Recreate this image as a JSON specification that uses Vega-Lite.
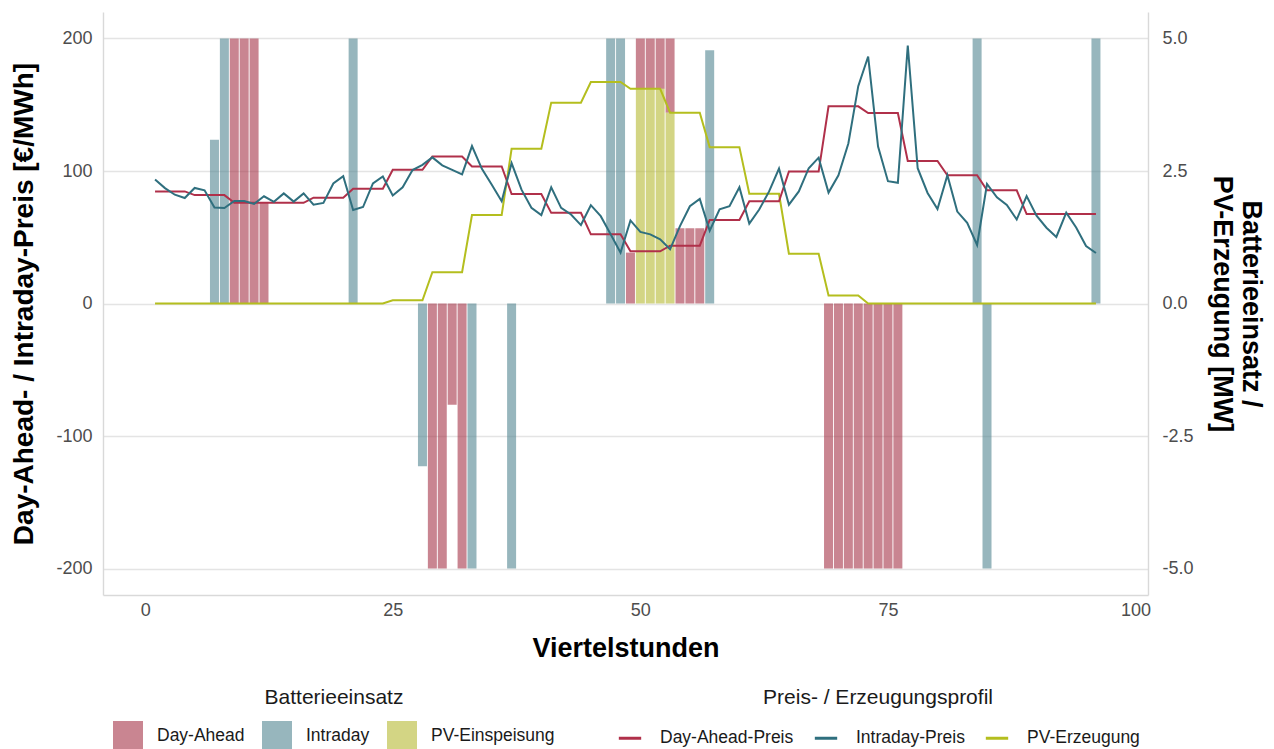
{
"$schema": "https://vega.github.io/schema/vega-lite/v6.json",
"width": 1045, "height": 583,
"autosize": {"type": "none"},
"padding": {"left": 103, "top": 12, "right": 126, "bottom": 154},
"background": "white",
"config": {
  "font": "Liberation Sans",
  "view": {"stroke": null},
  "axis": {"gridColor": "#e4e4e4", "gridWidth": 1.4, "domainColor": "#d9d9d9", "domainWidth": 1.4, "ticks": false, "labelColor": "#4d4d4d", "labelFontSize": 18, "titleFontSize": 27, "titleFontWeight": "bold", "titleColor": "#000000"},
  "legend": {"titleFontSize": 21, "titleFontWeight": "normal", "titleColor": "#1a1a1a", "labelFontSize": 17.5, "labelColor": "#1a1a1a", "titleLimit": 400, "labelLimit": 300}
},
"datasets": {
  "einsatz": [
    {"q":7,"einsatz":"Intraday","mw":3.09},{"q":8,"einsatz":"Intraday","mw":5},{"q":21,"einsatz":"Intraday","mw":5},
    {"q":28,"einsatz":"Intraday","mw":-3.07},{"q":33,"einsatz":"Intraday","mw":-5},{"q":37,"einsatz":"Intraday","mw":-5},
    {"q":47,"einsatz":"Intraday","mw":5},{"q":48,"einsatz":"Intraday","mw":5},{"q":57,"einsatz":"Intraday","mw":4.78},
    {"q":84,"einsatz":"Intraday","mw":5},{"q":85,"einsatz":"Intraday","mw":-5},{"q":96,"einsatz":"Intraday","mw":5},
    {"q":9,"einsatz":"Day-Ahead","mw":5},{"q":10,"einsatz":"Day-Ahead","mw":5},{"q":11,"einsatz":"Day-Ahead","mw":5},{"q":12,"einsatz":"Day-Ahead","mw":1.9},
    {"q":29,"einsatz":"Day-Ahead","mw":-5},{"q":30,"einsatz":"Day-Ahead","mw":-5},{"q":31,"einsatz":"Day-Ahead","mw":-1.91},{"q":32,"einsatz":"Day-Ahead","mw":-5},
    {"q":49,"einsatz":"Day-Ahead","mw":0.96},{"q":50,"einsatz":"Day-Ahead","mw":0.95},{"q":51,"einsatz":"Day-Ahead","mw":0.95},{"q":52,"einsatz":"Day-Ahead","mw":0.95},
    {"q":53,"einsatz":"Day-Ahead","mw":1.4},{"q":54,"einsatz":"Day-Ahead","mw":1.42},{"q":55,"einsatz":"Day-Ahead","mw":1.42},{"q":56,"einsatz":"Day-Ahead","mw":1.42},
    {"q":69,"einsatz":"Day-Ahead","mw":-5},{"q":70,"einsatz":"Day-Ahead","mw":-5},{"q":71,"einsatz":"Day-Ahead","mw":-5},{"q":72,"einsatz":"Day-Ahead","mw":-5},
    {"q":73,"einsatz":"Day-Ahead","mw":-5},{"q":74,"einsatz":"Day-Ahead","mw":-5},{"q":75,"einsatz":"Day-Ahead","mw":-5},{"q":76,"einsatz":"Day-Ahead","mw":-5},
    {"q":50,"einsatz":"PV-Einspeisung","mw":4.05},{"q":51,"einsatz":"PV-Einspeisung","mw":4.05},{"q":52,"einsatz":"PV-Einspeisung","mw":4.05},{"q":53,"einsatz":"PV-Einspeisung","mw":3.6}
  ],
  "profil": [
    {"q":1,"Day-Ahead-Preis":84.6,"Intraday-Preis":93.6,"PV-Erzeugung":0},
    {"q":2,"Day-Ahead-Preis":84.6,"Intraday-Preis":87.1,"PV-Erzeugung":0},
    {"q":3,"Day-Ahead-Preis":84.6,"Intraday-Preis":82.1,"PV-Erzeugung":0},
    {"q":4,"Day-Ahead-Preis":84.6,"Intraday-Preis":79.6,"PV-Erzeugung":0},
    {"q":5,"Day-Ahead-Preis":81.8,"Intraday-Preis":87.2,"PV-Erzeugung":0},
    {"q":6,"Day-Ahead-Preis":81.8,"Intraday-Preis":85.4,"PV-Erzeugung":0},
    {"q":7,"Day-Ahead-Preis":81.8,"Intraday-Preis":72.5,"PV-Erzeugung":0},
    {"q":8,"Day-Ahead-Preis":81.8,"Intraday-Preis":72.1,"PV-Erzeugung":0},
    {"q":9,"Day-Ahead-Preis":76.0,"Intraday-Preis":77.4,"PV-Erzeugung":0},
    {"q":10,"Day-Ahead-Preis":76.0,"Intraday-Preis":77.4,"PV-Erzeugung":0},
    {"q":11,"Day-Ahead-Preis":76.0,"Intraday-Preis":75.2,"PV-Erzeugung":0},
    {"q":12,"Day-Ahead-Preis":76.0,"Intraday-Preis":80.9,"PV-Erzeugung":0},
    {"q":13,"Day-Ahead-Preis":76.0,"Intraday-Preis":76.7,"PV-Erzeugung":0},
    {"q":14,"Day-Ahead-Preis":76.0,"Intraday-Preis":83.1,"PV-Erzeugung":0},
    {"q":15,"Day-Ahead-Preis":76.0,"Intraday-Preis":76.9,"PV-Erzeugung":0},
    {"q":16,"Day-Ahead-Preis":76.0,"Intraday-Preis":83.1,"PV-Erzeugung":0},
    {"q":17,"Day-Ahead-Preis":79.9,"Intraday-Preis":74.6,"PV-Erzeugung":0},
    {"q":18,"Day-Ahead-Preis":79.9,"Intraday-Preis":75.9,"PV-Erzeugung":0},
    {"q":19,"Day-Ahead-Preis":79.9,"Intraday-Preis":90.6,"PV-Erzeugung":0},
    {"q":20,"Day-Ahead-Preis":79.9,"Intraday-Preis":96.1,"PV-Erzeugung":0},
    {"q":21,"Day-Ahead-Preis":86.6,"Intraday-Preis":70.6,"PV-Erzeugung":0},
    {"q":22,"Day-Ahead-Preis":86.6,"Intraday-Preis":72.8,"PV-Erzeugung":0},
    {"q":23,"Day-Ahead-Preis":86.6,"Intraday-Preis":90.6,"PV-Erzeugung":0},
    {"q":24,"Day-Ahead-Preis":86.6,"Intraday-Preis":95.9,"PV-Erzeugung":0},
    {"q":25,"Day-Ahead-Preis":100.9,"Intraday-Preis":81.5,"PV-Erzeugung":0.06},
    {"q":26,"Day-Ahead-Preis":100.9,"Intraday-Preis":87.7,"PV-Erzeugung":0.06},
    {"q":27,"Day-Ahead-Preis":100.9,"Intraday-Preis":100.7,"PV-Erzeugung":0.06},
    {"q":28,"Day-Ahead-Preis":100.9,"Intraday-Preis":104.6,"PV-Erzeugung":0.06},
    {"q":29,"Day-Ahead-Preis":111.0,"Intraday-Preis":110.3,"PV-Erzeugung":0.59},
    {"q":30,"Day-Ahead-Preis":111.0,"Intraday-Preis":104.3,"PV-Erzeugung":0.59},
    {"q":31,"Day-Ahead-Preis":111.0,"Intraday-Preis":100.8,"PV-Erzeugung":0.59},
    {"q":32,"Day-Ahead-Preis":111.0,"Intraday-Preis":97.4,"PV-Erzeugung":0.59},
    {"q":33,"Day-Ahead-Preis":103.4,"Intraday-Preis":118.8,"PV-Erzeugung":1.67},
    {"q":34,"Day-Ahead-Preis":103.4,"Intraday-Preis":101.6,"PV-Erzeugung":1.67},
    {"q":35,"Day-Ahead-Preis":103.4,"Intraday-Preis":89.6,"PV-Erzeugung":1.67},
    {"q":36,"Day-Ahead-Preis":103.4,"Intraday-Preis":77.2,"PV-Erzeugung":1.67},
    {"q":37,"Day-Ahead-Preis":82.6,"Intraday-Preis":105.9,"PV-Erzeugung":2.92},
    {"q":38,"Day-Ahead-Preis":82.6,"Intraday-Preis":85.9,"PV-Erzeugung":2.92},
    {"q":39,"Day-Ahead-Preis":82.6,"Intraday-Preis":72.2,"PV-Erzeugung":2.92},
    {"q":40,"Day-Ahead-Preis":82.6,"Intraday-Preis":66.7,"PV-Erzeugung":2.92},
    {"q":41,"Day-Ahead-Preis":68.4,"Intraday-Preis":87.6,"PV-Erzeugung":3.79},
    {"q":42,"Day-Ahead-Preis":68.4,"Intraday-Preis":72.2,"PV-Erzeugung":3.79},
    {"q":43,"Day-Ahead-Preis":68.4,"Intraday-Preis":67.2,"PV-Erzeugung":3.79},
    {"q":44,"Day-Ahead-Preis":68.4,"Intraday-Preis":59.2,"PV-Erzeugung":3.79},
    {"q":45,"Day-Ahead-Preis":52.2,"Intraday-Preis":74.2,"PV-Erzeugung":4.18},
    {"q":46,"Day-Ahead-Preis":52.2,"Intraday-Preis":65.9,"PV-Erzeugung":4.18},
    {"q":47,"Day-Ahead-Preis":52.2,"Intraday-Preis":52.2,"PV-Erzeugung":4.18},
    {"q":48,"Day-Ahead-Preis":52.2,"Intraday-Preis":38.4,"PV-Erzeugung":4.18},
    {"q":49,"Day-Ahead-Preis":39.4,"Intraday-Preis":62.7,"PV-Erzeugung":4.05},
    {"q":50,"Day-Ahead-Preis":39.4,"Intraday-Preis":54.0,"PV-Erzeugung":4.05},
    {"q":51,"Day-Ahead-Preis":39.4,"Intraday-Preis":52.2,"PV-Erzeugung":4.05},
    {"q":52,"Day-Ahead-Preis":39.4,"Intraday-Preis":48.4,"PV-Erzeugung":4.05},
    {"q":53,"Day-Ahead-Preis":43.6,"Intraday-Preis":40.9,"PV-Erzeugung":3.6},
    {"q":54,"Day-Ahead-Preis":43.6,"Intraday-Preis":58.4,"PV-Erzeugung":3.6},
    {"q":55,"Day-Ahead-Preis":43.6,"Intraday-Preis":73.4,"PV-Erzeugung":3.6},
    {"q":56,"Day-Ahead-Preis":43.6,"Intraday-Preis":78.9,"PV-Erzeugung":3.6},
    {"q":57,"Day-Ahead-Preis":63.1,"Intraday-Preis":55.0,"PV-Erzeugung":2.95},
    {"q":58,"Day-Ahead-Preis":63.1,"Intraday-Preis":71.1,"PV-Erzeugung":2.95},
    {"q":59,"Day-Ahead-Preis":63.1,"Intraday-Preis":73.4,"PV-Erzeugung":2.95},
    {"q":60,"Day-Ahead-Preis":63.1,"Intraday-Preis":87.7,"PV-Erzeugung":2.95},
    {"q":61,"Day-Ahead-Preis":77.2,"Intraday-Preis":60.3,"PV-Erzeugung":2.07},
    {"q":62,"Day-Ahead-Preis":77.2,"Intraday-Preis":70.9,"PV-Erzeugung":2.07},
    {"q":63,"Day-Ahead-Preis":77.2,"Intraday-Preis":84.6,"PV-Erzeugung":2.07},
    {"q":64,"Day-Ahead-Preis":77.2,"Intraday-Preis":101.8,"PV-Erzeugung":2.07},
    {"q":65,"Day-Ahead-Preis":99.6,"Intraday-Preis":74.6,"PV-Erzeugung":0.94},
    {"q":66,"Day-Ahead-Preis":99.6,"Intraday-Preis":84.6,"PV-Erzeugung":0.94},
    {"q":67,"Day-Ahead-Preis":99.6,"Intraday-Preis":102.1,"PV-Erzeugung":0.94},
    {"q":68,"Day-Ahead-Preis":99.6,"Intraday-Preis":110.1,"PV-Erzeugung":0.94},
    {"q":69,"Day-Ahead-Preis":148.8,"Intraday-Preis":83.7,"PV-Erzeugung":0.15},
    {"q":70,"Day-Ahead-Preis":148.8,"Intraday-Preis":96.8,"PV-Erzeugung":0.15},
    {"q":71,"Day-Ahead-Preis":148.8,"Intraday-Preis":120.8,"PV-Erzeugung":0.15},
    {"q":72,"Day-Ahead-Preis":148.8,"Intraday-Preis":164.0,"PV-Erzeugung":0.15},
    {"q":73,"Day-Ahead-Preis":143.8,"Intraday-Preis":186.4,"PV-Erzeugung":0},
    {"q":74,"Day-Ahead-Preis":143.8,"Intraday-Preis":118.4,"PV-Erzeugung":0},
    {"q":75,"Day-Ahead-Preis":143.8,"Intraday-Preis":92.3,"PV-Erzeugung":0},
    {"q":76,"Day-Ahead-Preis":143.8,"Intraday-Preis":91.1,"PV-Erzeugung":0},
    {"q":77,"Day-Ahead-Preis":107.6,"Intraday-Preis":194.7,"PV-Erzeugung":0},
    {"q":78,"Day-Ahead-Preis":107.6,"Intraday-Preis":102.1,"PV-Erzeugung":0},
    {"q":79,"Day-Ahead-Preis":107.6,"Intraday-Preis":83.4,"PV-Erzeugung":0},
    {"q":80,"Day-Ahead-Preis":107.6,"Intraday-Preis":71.3,"PV-Erzeugung":0},
    {"q":81,"Day-Ahead-Preis":96.8,"Intraday-Preis":96.8,"PV-Erzeugung":0},
    {"q":82,"Day-Ahead-Preis":96.8,"Intraday-Preis":69.4,"PV-Erzeugung":0},
    {"q":83,"Day-Ahead-Preis":96.8,"Intraday-Preis":60.9,"PV-Erzeugung":0},
    {"q":84,"Day-Ahead-Preis":96.8,"Intraday-Preis":44.2,"PV-Erzeugung":0},
    {"q":85,"Day-Ahead-Preis":85.4,"Intraday-Preis":90.2,"PV-Erzeugung":0},
    {"q":86,"Day-Ahead-Preis":85.4,"Intraday-Preis":80.2,"PV-Erzeugung":0},
    {"q":87,"Day-Ahead-Preis":85.4,"Intraday-Preis":74.3,"PV-Erzeugung":0},
    {"q":88,"Day-Ahead-Preis":85.4,"Intraday-Preis":63.4,"PV-Erzeugung":0},
    {"q":89,"Day-Ahead-Preis":67.5,"Intraday-Preis":81.1,"PV-Erzeugung":0},
    {"q":90,"Day-Ahead-Preis":67.5,"Intraday-Preis":66.3,"PV-Erzeugung":0},
    {"q":91,"Day-Ahead-Preis":67.5,"Intraday-Preis":57.2,"PV-Erzeugung":0},
    {"q":92,"Day-Ahead-Preis":67.5,"Intraday-Preis":50.2,"PV-Erzeugung":0},
    {"q":93,"Day-Ahead-Preis":67.5,"Intraday-Preis":68.6,"PV-Erzeugung":0},
    {"q":94,"Day-Ahead-Preis":67.5,"Intraday-Preis":57.4,"PV-Erzeugung":0},
    {"q":95,"Day-Ahead-Preis":67.5,"Intraday-Preis":43.4,"PV-Erzeugung":0},
    {"q":96,"Day-Ahead-Preis":67.5,"Intraday-Preis":38.1,"PV-Erzeugung":0}
  ]
},
"encoding": {
  "x": {"field": "q", "type": "quantitative",
        "scale": {"domain": [-3.75, 100.75], "nice": false, "zero": false},
        "axis": {"values": [0, 25, 50, 75, 100], "title": "Viertelstunden", "grid": false, "labelPadding": 6, "titlePadding": 16}}
},
"layer": [
  {
    "layer": [
      {
        "data": {"name": "einsatz"},
        "mark": {"type": "bar", "size": 9, "fillOpacity": 0.6, "strokeWidth": 0},
        "encoding": {
          "y": {"field": "mw", "type": "quantitative", "stack": "zero",
                "scale": {"domain": [-5.5, 5.5], "nice": false},
                "axis": {"orient": "right", "values": [-5, -2.5, 0, 2.5, 5], "format": ".1f", "grid": false,
                         "labelExpr": "replace(datum.label, '\u2212', '-')",
                         "labelPadding": 14, "title": ["Batterieeinsatz /", "PV-Erzeugung [MW]"], "titlePadding": 14}},
          "fill": {"field": "einsatz", "type": "nominal",
                   "scale": {"domain": ["Day-Ahead", "Intraday", "PV-Einspeisung"], "range": ["#A53448", "#528591", "#B6B932"]},
                   "legend": {"title": "Batterieeinsatz", "orient": "none", "legendX": 10, "legendY": 675, "direction": "horizontal",
                              "titleAnchor": "middle", "titlePadding": 13, "symbolType": "square", "symbolSize": 900,
                              "symbolOpacity": 0.6, "symbolStrokeWidth": 0, "labelOffset": 14, "columnPadding": 17}},
          "order": {"field": "einsatz", "sort": "descending"}
        }
      },
      {
        "data": {"name": "profil"},
        "transform": [{"fold": ["PV-Erzeugung"], "as": ["profil", "mw"]}],
        "mark": {"type": "line", "strokeWidth": 2},
        "encoding": {
          "y": {"field": "mw", "type": "quantitative"},
          "stroke": {"field": "profil", "type": "nominal",
                     "scale": {"domain": ["Day-Ahead-Preis", "Intraday-Preis", "PV-Erzeugung"], "range": ["#B0304A", "#2F6F7E", "#B4BE1E"]},
                     "legend": {"title": "Preis- / Erzeugungsprofil", "orient": "none", "legendX": 514, "legendY": 675, "direction": "horizontal",
                                "titleAnchor": "middle", "titlePadding": 17, "symbolType": "stroke", "symbolSize": 500, "symbolStrokeWidth": 3,
                                "labelOffset": 17, "columnPadding": 14}}
        }
      }
    ]
  },
  {
    "data": {"name": "profil"},
    "transform": [{"fold": ["Day-Ahead-Preis", "Intraday-Preis"], "as": ["profil", "preis"]}],
    "mark": {"type": "line", "strokeWidth": 2},
    "encoding": {
      "y": {"field": "preis", "type": "quantitative",
            "scale": {"domain": [-220, 220], "nice": false},
            "axis": {"orient": "left", "values": [-200, -100, 0, 100, 200], "grid": true, "labelPadding": 11,
                     "labelExpr": "replace(datum.label, '\u2212', '-')",
                     "title": "Day-Ahead- / Intraday-Preis [€/MWh]", "titleFontSize": 28, "titlePadding": 17}},
      "stroke": {"field": "profil", "type": "nominal",
                 "scale": {"domain": ["Day-Ahead-Preis", "Intraday-Preis", "PV-Erzeugung"], "range": ["#B0304A", "#2F6F7E", "#B4BE1E"]}}
    }
  }
],
"resolve": {"scale": {"y": "independent"}}
}
